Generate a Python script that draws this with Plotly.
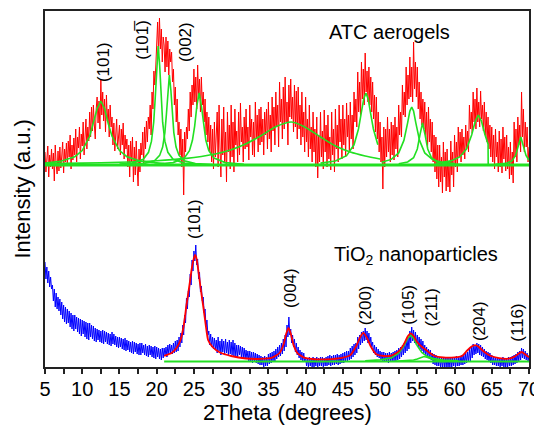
import plotly.graph_objects as go

# ---------------- data ----------------
x_start = 5.0
x_step = 0.125

# ATC aerogels raw pattern (red), 5..70 deg every 0.125 deg (8 values per degree)
atc_raw = [
    215, 195, 208, 221, 190, 212, 200, 218,
    198, 214, 186, 222, 203, 193, 216, 196,
    220, 199, 211, 225, 194, 218, 205, 224,
    201, 226, 210, 232, 198, 222, 207, 229,
    212, 238, 205, 230, 219, 240, 208, 233,
    221, 245, 212, 236, 248, 218, 240, 226,
    255, 230, 260, 236, 262, 242, 228, 258,
    270, 244, 266, 238, 287, 252, 275, 246,
    268, 235, 272, 246, 258, 230, 262, 240,
    250, 222, 244, 216, 238, 248, 218, 235,
    242, 212, 238, 222, 244, 208, 232, 218,
    228, 200, 222, 190, 226, 205, 230, 185,
    220, 192, 226, 200, 181, 218, 195, 224,
    212, 235, 202, 240, 218, 246, 225, 250,
    238, 262, 232, 275, 258, 296, 282, 300,
    320, 345, 312, 349, 318, 338, 305, 330,
    322, 295, 330, 300, 326, 292, 318, 305,
    315, 285, 298, 262, 280, 245, 268, 232,
    245, 212, 238, 200, 228, 172, 235, 215,
    240, 228, 258, 236, 275, 250, 282, 262,
    298, 265, 290, 258, 302, 270, 288, 255,
    290, 262, 275, 245, 268, 232, 255, 225,
    250, 215, 242, 205, 238, 198, 245, 210,
    232, 255, 200, 262, 220, 190, 248, 212,
    260, 205, 235, 185, 255, 215, 242, 198,
    262, 210, 245, 195, 258, 222, 236, 205,
    255, 212, 264, 225, 240, 205, 250, 218,
    258, 220, 240, 207, 262, 230, 248, 212,
    245, 210, 265, 228, 252, 215, 258, 222,
    260, 225, 248, 212, 255, 232, 258, 218,
    265, 228, 252, 215, 270, 236, 260, 222,
    275, 240, 262, 220, 285, 245, 268, 228,
    280, 238, 290, 245, 265, 222, 282, 250,
    288, 248, 270, 235, 282, 240, 276, 228,
    280, 238, 262, 222, 275, 230, 255, 215,
    270, 225, 248, 210, 262, 218, 240, 205,
    255, 215, 238, 200, 250, 189, 232, 205,
    255, 210, 236, 198, 257, 215, 242, 200,
    252, 208, 230, 197, 255, 212, 238, 195,
    258, 218, 242, 205, 262, 225, 248, 208,
    262, 222, 248, 210, 264, 230, 252, 215,
    265, 228, 252, 218, 275, 245, 268, 240,
    295, 255, 285, 250, 305, 268, 298, 262,
    314, 275, 296, 265, 300, 262, 290, 255,
    285, 248, 272, 235, 270, 228, 255, 215,
    245, 205, 230, 178, 240, 200, 238, 210,
    250, 215, 238, 205, 245, 212, 242, 207,
    250, 218, 240, 210, 262, 232, 255, 230,
    282, 252, 275, 250, 300, 262, 292, 268,
    310, 270, 300, 265, 325, 278, 305, 270,
    300, 258, 285, 248, 275, 242, 268, 238,
    265, 228, 255, 218, 260, 225, 248, 215,
    245, 205, 232, 195, 230, 188, 222, 180,
    222, 185, 210, 174, 225, 190, 215, 176,
    218, 180, 205, 175, 226, 192, 215, 180,
    232, 200, 225, 195, 240, 210, 235, 205,
    238, 212, 230, 208, 242, 218, 236, 215,
    262, 238, 255, 234, 275, 245, 268, 238,
    279, 245, 265, 240, 276, 248, 262, 236,
    265, 232, 255, 225, 250, 218, 242, 210,
    240, 205, 232, 198, 238, 210, 225, 195,
    236, 200, 228, 194, 240, 208, 230, 196,
    232, 198, 220, 188, 225, 192, 215, 184,
    245, 210, 238, 205, 250, 222, 242, 215,
    275, 230, 258, 215, 245, 220, 240, 205,
    220,
]

# TiO2 nanoparticles raw pattern (blue), 5..70 deg every 0.125 deg
tio2_raw = [
    105, 88, 100, 84, 96, 80, 90, 78,
    82, 66, 78, 60, 74, 58, 70, 56,
    68, 52, 65, 48, 62, 45, 60, 43,
    58, 44, 56, 40, 54, 38, 52, 36,
    52, 38, 50, 35, 49, 33, 48, 31,
    47, 33, 46, 30, 45, 28, 44, 27,
    44, 30, 42, 28, 41, 26, 39, 25,
    38, 27, 37, 25, 36, 24, 37, 23,
    36, 25, 35, 23, 34, 22, 33, 21,
    35, 23, 33, 22, 31, 20, 30, 19,
    30, 20, 29, 18, 28, 17, 29, 16,
    27, 17, 26, 15, 25, 14, 26, 13,
    25, 15, 24, 13, 23, 12, 24, 12,
    24, 14, 22, 12, 23, 11, 21, 10,
    22, 12, 21, 10, 20, 9, 21, 8,
    20, 10, 19, 8, 18, 7, 19, 9,
    19, 11, 20, 10, 22, 13, 23, 14,
    22, 13, 24, 14, 26, 15, 27, 16,
    30, 20, 34, 24, 42, 32, 52, 44,
    69, 58, 76, 70, 93, 82, 107, 96,
    116, 106, 122, 102, 108, 88, 95, 75,
    81, 66, 70, 54, 58, 40, 47, 32,
    36, 22, 33, 20, 30, 18, 29, 17,
    27, 14, 30, 16, 26, 12, 28, 15,
    26, 13, 28, 14, 25, 12, 27, 13,
    25, 12, 27, 11, 24, 10, 22, 10,
    22, 12, 21, 10, 20, 9, 19, 8,
    17, 8, 16, 6, 16, 5, 15, 4,
    15, 6, 14, 4, 13, 3, 12, 2,
    11, 2, 10, 0, 11, 1, 10, 1,
    13, 3, 14, 4, 15, 5, 16, 6,
    18, 8, 20, 10, 22, 11, 24, 13,
    28, 16, 32, 20, 42, 30, 50, 32,
    38, 24, 32, 20, 28, 15, 24, 12,
    20, 9, 17, 7, 15, 6, 14, 5,
    10, 1, 9, 0, 10, 1, 9, 0,
    10, 0, 9, 1, 10, 0, 9, 1,
    10, 1, 10, 0, 9, 1, 10, 1,
    11, 2, 12, 1, 11, 2, 12, 2,
    12, 3, 13, 2, 12, 3, 13, 4,
    14, 4, 15, 5, 16, 6, 16, 7,
    19, 8, 21, 10, 23, 12, 24, 14,
    30, 18, 32, 22, 35, 24, 36, 26,
    39, 27, 36, 24, 34, 22, 30, 20,
    25, 14, 22, 12, 20, 10, 18, 9,
    16, 7, 15, 6, 15, 5, 14, 5,
    14, 4, 15, 5, 14, 5, 15, 6,
    16, 6, 17, 7, 19, 8, 20, 10,
    22, 12, 24, 14, 27, 16, 30, 18,
    36, 24, 40, 26, 37, 24, 35, 22,
    32, 20, 30, 18, 28, 16, 26, 14,
    22, 11, 20, 9, 18, 8, 17, 7,
    14, 3, 13, 2, 12, 1, 11, 1,
    10, 0, 9, -1, 10, 0, 9, 0,
    10, -1, 9, 0, 10, 0, 9, 1,
    10, 0, 11, 1, 10, 1, 11, 2,
    12, 2, 13, 3, 14, 4, 15, 5,
    18, 6, 20, 9, 23, 12, 22, 13,
    24, 14, 23, 12, 22, 11, 20, 10,
    18, 8, 16, 7, 15, 5, 14, 4,
    12, 2, 11, 2, 10, 1, 10, 1,
    9, 0, 9, 1, 10, 0, 9, 0,
    9, 0, 10, 1, 10, 1, 11, 2,
    12, 3, 13, 4, 15, 6, 16, 7,
    19, 9, 18, 8, 16, 7, 14, 6,
    12,
]

# fitted peaks, ATC aerogels (green)
atc_base_x = [5, 70]
atc_base_y = [202, 202]
atc_p1_x = [5, 7, 9, 10, 11, 11.5, 12, 12.5, 13, 13.5, 14, 15, 16, 18, 21]
atc_p1_y = [204.0, 205.6, 210.3, 216.4, 230.7, 243.3, 258.3, 266.0, 258.3, 243.3, 230.7, 216.4, 210.3, 205.6, 203.5]
atc_p2_x = [15, 16.7, 18.2, 18.9, 19.3, 19.6, 19.8, 20.0, 20.2, 20.4, 20.6, 20.8, 21.1, 21.5, 22.2, 23.7, 26]
atc_p2_y = [202.9, 203.9, 207.7, 214.7, 225.8, 244.8, 268.5, 301.4, 321.0, 301.4, 268.5, 244.8, 225.8, 214.7, 207.7, 203.9, 202.7]
atc_p3_x = [16.5, 18.2, 19.7, 20.4, 20.8, 21.1, 21.3, 21.5, 21.7, 21.9, 22.1, 22.3, 22.6, 23.0, 23.7, 25.2, 27.5]
atc_p3_y = [202.7, 203.4, 206.3, 211.6, 220.0, 234.4, 252.3, 277.2, 292.0, 277.2, 252.3, 234.4, 220.0, 211.6, 206.3, 203.4, 202.5]
atc_p4_x = [19.7, 22.2, 23.7, 24.4, 24.8, 25.1, 25.4, 25.7, 26.0, 26.3, 26.6, 27.0, 27.7, 29.2, 31.7]
atc_p4_y = [202.8, 204.4, 208.9, 216.4, 226.7, 240.9, 261.4, 274.0, 261.4, 240.9, 226.7, 216.4, 208.9, 204.4, 202.8]
atc_p5_x = [5, 10, 15, 20, 24, 26, 28, 30, 32, 34, 36, 38.1, 40, 42, 44, 46, 48, 50]
atc_p5_y = [203.4, 203.9, 204.7, 206.3, 208.6, 210.5, 213.2, 217.2, 223.2, 231.3, 240.3, 245.0, 239.5, 230.0, 221.0, 215.0, 211.0, 208.0]
atc_p6_x = [42, 44, 45.5, 46.5, 47.1, 47.5, 47.8, 48.1, 48.4, 48.7, 49.1, 49.7]
atc_p6_y = [203.9, 206.0, 211.3, 222.2, 238.0, 254.9, 268.1, 274.0, 268.1, 254.9, 238.0, 222.2]
atc_p7_x = [50.2, 51.5, 52.5, 53.2, 53.7, 54.0, 54.25, 54.5, 54.8, 55.3, 56.0, 57.0, 58.3, 60]
atc_p7_y = [204.7, 207.6, 214.1, 226.6, 244.2, 255.9, 260.0, 255.9, 244.2, 226.6, 214.1, 207.6, 204.7, 203.4]
atc_p8_x = [52.5, 53.7, 54.5, 55.0, 55.35, 55.7, 56.05, 56.4, 56.9, 57.7, 58.9, 61]
atc_p8_y = [203.2, 205.0, 209.3, 218.0, 231.9, 244.0, 231.9, 218.0, 209.3, 205.0, 203.2, 202.5]
atc_p9_x = [57.5, 59.5, 60.7, 61.6, 62.3, 62.8, 63.2, 63.6, 64.1, 64.5, 64.52]
atc_p9_y = [203.8, 206.1, 210.1, 218.0, 232.0, 246.2, 252.0, 246.2, 232.0, 222.9, 202.0]
atc_p10_x = [65.5, 66.9, 67.7, 68.2, 68.55, 68.9, 69.25, 69.6, 70.0]
atc_p10_y = [202.6, 203.6, 206.1, 211.5, 220.8, 230.0, 220.8, 211.5, 206.8]

# fits, TiO2 nanoparticles
tio2_base_x = [21, 70]
tio2_base_y = [5.5, 5.5]
tio2_fit_x = [21, 22, 22.7, 23.2, 23.6, 24.0, 24.4, 24.7, 25.0, 25.15, 25.35, 25.6, 25.9, 26.3, 26.6,
              26.9, 27.5, 28.5, 30, 32, 34,
              35.5, 36.5, 37.0, 37.4, 37.7, 38.0, 38.4, 38.9, 39.8, 41.5, 43.5, 45, 46, 46.8, 47.3,
              47.75, 48.2, 48.7, 49.5, 50.5, 51.5, 52.5, 53.2, 53.7, 54.1, 54.5, 55.0, 55.6, 56.3,
              57.2, 58.5, 60, 61, 61.7, 62.3, 62.75, 63.2, 63.8, 64.8, 66, 67.2, 68.0, 68.5, 69.0, 69.5, 70]
tio2_fit_y = [11.2, 14.0, 19.5, 27.0, 40.0, 62.0, 82.0, 98.0, 109.0, 112.0, 108.5, 96.0, 79.0, 58.0, 41.0,
              27.0, 20.0, 14.5, 11.0, 8.5, 8.1,
              9.4, 14.0, 21.7, 33.4, 39.1, 33.4, 21.6, 13.9, 9.4, 7.7, 7.9, 9.3, 11.9, 21.0, 29.5,
              34.1, 29.6, 21.3, 12.7, 11.0, 11.3, 15.6, 22.9, 30.4, 33.7, 31.1, 24.7, 20.2, 16.2,
              11.5, 9.5, 9.6, 11.0, 16.5, 20.5, 21.9, 20.5, 16.3, 11.3, 8.9, 8.3, 10.1, 12.7, 15.0, 12.6, 9.7]
tio2_p105_x = [48, 50, 51.5, 52.5, 53.2, 53.7, 54.1, 54.5, 55.0, 55.6, 56.3, 57.2, 58.5, 60.5]
tio2_p105_y = [6.3, 7.1, 8.9, 13.8, 21.1, 28.5, 31.5, 28.5, 21.1, 14.6, 10.7, 8.4, 7.0, 6.2]
tio2_p211_x = [52, 53.5, 54.5, 55.0, 55.5, 55.9, 56.3, 56.8, 57.3, 58.5, 60]
tio2_p211_y = [5.75, 6.1, 7.0, 8.0, 9.7, 10.5, 9.7, 8.0, 7.0, 6.0, 5.7]

# labels
atc_hkl = ["(101)", "(10\u0031\u0305)", "(002)"]
atc_hkl_x = [12.8, 18.0, 23.8]
atc_hkl_y = [305, 327, 325]
tio2_hkl = ["(101)", "(004)", "(200)", "(105)", "(211)", "(204)", "(116)"]
tio2_hkl_x = [25.0, 37.9, 48.0, 53.7, 56.9, 63.3, 68.35]
tio2_hkl_y = [148, 79, 62, 62, 60, 46, 44]
x_ticks = [5, 10, 15, 20, 25, 30, 35, 40, 45, 50, 55, 60, 65, 70]

# ---------------- figure ----------------
FONT = "Liberation Sans, Arial, sans-serif"
GREEN = "#22e022"

atc_x = [x_start + x_step * i for i in range(len(atc_raw))]
tio2_x = [x_start + x_step * i for i in range(len(tio2_raw))]

fig = go.Figure()
fig.add_trace(go.Scatter(x=atc_x, y=atc_raw, mode="lines", line=dict(color="#ff0000", width=1)))
fig.add_trace(go.Scatter(x=tio2_x, y=tio2_raw, mode="lines", line=dict(color="#0000ff", width=1)))

fig.add_trace(go.Scatter(x=atc_base_x, y=atc_base_y, mode="lines", line=dict(color=GREEN, width=3)))
for px, py in [(atc_p1_x, atc_p1_y), (atc_p2_x, atc_p2_y), (atc_p3_x, atc_p3_y), (atc_p4_x, atc_p4_y),
               (atc_p6_x, atc_p6_y), (atc_p7_x, atc_p7_y), (atc_p8_x, atc_p8_y),
               (atc_p9_x, atc_p9_y), (atc_p10_x, atc_p10_y)]:
    fig.add_trace(go.Scatter(x=px, y=py, mode="lines", line=dict(color=GREEN, width=1.6)))
fig.add_trace(go.Scatter(x=atc_p5_x, y=atc_p5_y, mode="lines",
                         line=dict(color=GREEN, width=1.6, shape="spline", smoothing=0.8)))

fig.add_trace(go.Scatter(x=tio2_base_x, y=tio2_base_y, mode="lines", line=dict(color=GREEN, width=2)))
fig.add_trace(go.Scatter(x=tio2_p105_x, y=tio2_p105_y, mode="lines", line=dict(color=GREEN, width=1.6)))
fig.add_trace(go.Scatter(x=tio2_p211_x, y=tio2_p211_y, mode="lines", line=dict(color=GREEN, width=1.6)))
fig.add_trace(go.Scatter(x=tio2_fit_x, y=tio2_fit_y, mode="lines",
                         line=dict(color="#ff0000", width=1.8, shape="spline", smoothing=0.5)))

annotations = []
for t, x, y in zip(atc_hkl, atc_hkl_x, atc_hkl_y):
    annotations.append(dict(text=t, x=x, y=y, xref="x", yref="y", showarrow=False, textangle=-90,
                            font=dict(size=17, family=FONT, color="black")))
for t, x, y in zip(tio2_hkl, tio2_hkl_x, tio2_hkl_y):
    annotations.append(dict(text=t, x=x, y=y, xref="x", yref="y", showarrow=False, textangle=-90,
                            font=dict(size=17, family=FONT, color="black")))
annotations.append(dict(text="ATC aerogels", x=51.3, y=335, xref="x", yref="y", showarrow=False,
                        font=dict(size=20, family=FONT, color="black")))
annotations.append(dict(text="TiO<sub>2</sub> nanoparticles", x=54.8, y=112, xref="x", yref="y",
                        showarrow=False, font=dict(size=20, family=FONT, color="black")))
annotations.append(dict(text="2Theta (degrees)", x=0.5, y=-0.128, xref="paper", yref="paper",
                        showarrow=False, yanchor="middle", font=dict(size=22, family=FONT, color="black")))
annotations.append(dict(text="Intensity (a.u.)", x=-0.0465, y=0.5, xref="paper", yref="paper",
                        showarrow=False, textangle=-90, xanchor="center", yanchor="middle",
                        font=dict(size=22, family=FONT, color="black")))

# the page body has an 8 px margin, so the figure is 8 px smaller and margins are shifted
fig.update_layout(
    width=534, height=421,
    margin=dict(l=37, r=13, t=3, b=62),
    plot_bgcolor="white", paper_bgcolor="white",
    showlegend=False,
    font=dict(family=FONT, color="black"),
    annotations=annotations,
    xaxis=dict(range=[5, 70], tickmode="array", tickvals=x_ticks, ticks="outside", ticklen=5,
               tickwidth=1.5, tickcolor="#222", showline=True, linewidth=2, linecolor="#222",
               mirror=True, showgrid=False, zeroline=False, automargin=False,
               ticklabelstandoff=-2,
               tickfont=dict(size=20, family=FONT),
               minor=dict(tick0=7.5, dtick=5, ticks="outside", ticklen=5, tickwidth=1.5, tickcolor="#222")),
    yaxis=dict(range=[0, 356], showticklabels=False, ticks="", showline=True, linewidth=2,
               linecolor="#222", mirror=True, showgrid=False, zeroline=False, automargin=False),
)

fig.write_html("out.html")
